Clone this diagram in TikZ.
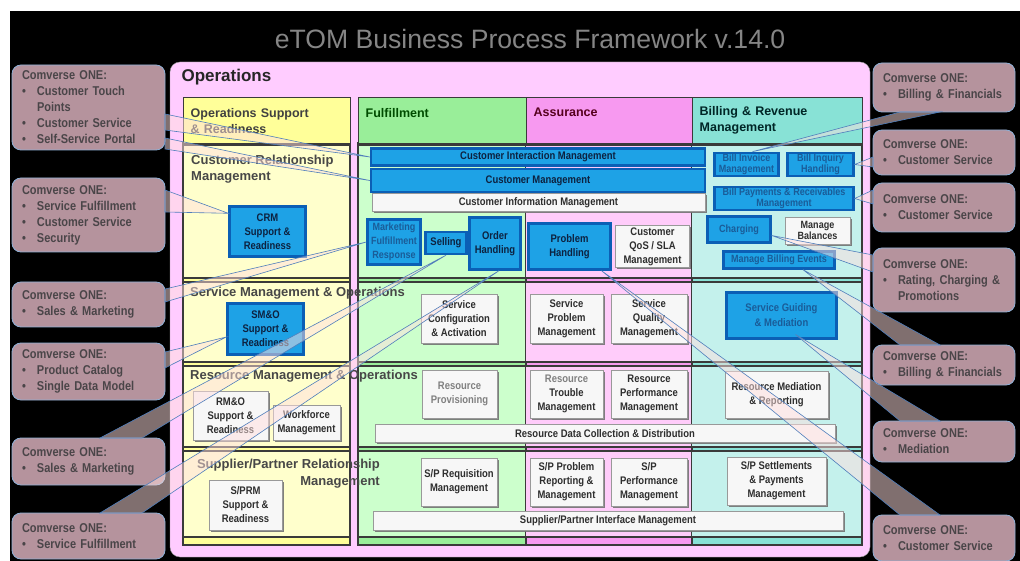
\documentclass[tikz,border=0pt]{standalone}
\usepackage{fontspec}
\setmainfont{Liberation Sans}
\newfontfamily\narrowsf[FakeStretch=0.86]{Liberation Sans}
\usetikzlibrary{shadows}

\definecolor{opspink}{HTML}{FFCCFF}
\definecolor{osrhead}{HTML}{FFFF99}
\definecolor{osrbody}{HTML}{FFFFCC}
\definecolor{fulhead}{HTML}{99EE99}
\definecolor{fulbody}{HTML}{CCFFCC}
\definecolor{asshead}{HTML}{F799F0}
\definecolor{assbody}{HTML}{FFCCFA}
\definecolor{bilhead}{HTML}{88E2D6}
\definecolor{bilbody}{HTML}{C4F1EC}
\definecolor{framegray}{HTML}{3A3A3A}
\definecolor{boxblue}{HTML}{1EA2E6}
\definecolor{boxedge}{HTML}{0B5FB5}
\definecolor{boxtext}{HTML}{0D2240}
\definecolor{dimtext}{HTML}{1A5C98}
\definecolor{callfill}{HTML}{B5939D}
\definecolor{calledge}{HTML}{8FB0D6}
\definecolor{calltext}{HTML}{4A4548}
\definecolor{wedgeedge}{HTML}{4F7EBB}
\definecolor{titlegray}{HTML}{858585}

\newcommand\itm[1]{\makebox[15pt][l]{\textbullet}#1}
\newcommand\cont[1]{\hspace*{15pt}#1}
\newcommand\greytxt[1]{{\color{black!50}#1}}

\tikzset{
  sz/.style 2 args={minimum width=#1pt, minimum height=#2pt},
  stage/.style={draw=framegray, line width=1.4pt},
  colhead/.style={rectangle, draw=framegray, line width=1.4pt, anchor=north west, align=left, inner xsep=7pt, font=\bfseries\fontsize{12.5}{16}\selectfont},
  rowlabel/.style={inner sep=0pt, align=left, text=black!72, font=\bfseries\fontsize{13}{16.5}\selectfont},
  proc/.style={rectangle, align=center, inner sep=1pt, font=\narrowsf\bfseries\fontsize{11}{14}\selectfont},
  bluebox/.style={proc, fill=boxblue, draw=boxedge, line width=2.4pt, text=boxtext},
  dimbox/.style={bluebox, text=dimtext, font=\narrowsf\bfseries\fontsize{10.5}{11.5}\selectfont},
  whitebox/.style={proc, fill=black!3, draw=black!40, line width=0.5pt, text=black!82, drop shadow={shadow xshift=1.6pt, shadow yshift=-1.6pt, fill=black!55, opacity=0.9}},
  callout/.style={rectangle, rounded corners=9pt, fill=callfill, draw=calledge, line width=0.8pt, text=calltext, align=left, inner xsep=10pt, font=\narrowsf\bfseries\fontsize{12.8}{16}\selectfont},
  pointer/.style={fill=pink!50!white, fill opacity=0.5, draw=wedgeedge, line width=0.6pt},
}

\begin{document}
\begin{tikzpicture}[x=1pt,y=-1pt]
\useasboundingbox (0,0) rectangle (1020,561);
\fill[black] (10,11) rectangle (1020,561);
\node[font=\fontsize{26.6}{30}\selectfont, text=titlegray] (title) at (530,39) {eTOM Business Process Framework v.14.0};

% operations panel
\filldraw[fill=opspink, draw=black!40, rounded corners=10pt] (170,62) rectangle (870,557);
\node[anchor=west, font=\bfseries\fontsize{17}{20}\selectfont, text=black!85] (ops) at (178,77) {Operations};

% vertical groupings and horizontal layers
\foreach \xa/\xb/\hd/\bd in {183/350/osrhead/osrbody, 358/526/fulhead/fulbody, 526/692/asshead/assbody, 692/862/bilhead/bilbody} {
  \filldraw[stage, fill=\hd] (\xa,143) rectangle (\xb,545);
  \foreach \ya/\yb in {145/278, 282/362, 366/447, 451/537}
    \fill[\bd] (\xa,\ya) rectangle (\xb,\yb);
}
\foreach \ya/\yb in {145/278, 282/362, 366/447, 451/537} {
  \draw[stage] (183,\ya) rectangle (350,\yb);
  \draw[stage] (358,\ya) rectangle (862,\yb);
}

\node[colhead, fill=osrhead, sz={167}{46}, text width=153pt, text=black!75] (osr) at (183,97) {Operations Support\\\& Readiness};
\node[colhead, fill=fulhead, sz={168}{46}, text width=154pt, text=black!70!green] (ful) at (358,97) {Fulfillment\\\mbox{}};
\node[colhead, fill=asshead, sz={166}{46}, text width=152pt, text=black!55!purple] (ass) at (526,97) {Assurance\\\mbox{}};
\node[colhead, fill=bilhead, sz={170}{46}, text width=156pt, text=black!70!teal] (bil) at (692,97) {Billing \& Revenue\\Management};

\node[rowlabel, anchor=base west] (crm) at (191,181) {Customer Relationship\\Management};
\node[rowlabel, anchor=base west] (smo) at (190,296.5) {Service Management \& Operations};
\node[rowlabel, anchor=base west] (rmo) at (190,379.5) {Resource Management \& Operations};
\node[rowlabel, anchor=base east, align=right] (sprm) at (380,485) {Supplier/Partner Relationship\\Management};

% customer layer
\node[bluebox, sz={334}{17}] (cim) at (538,157) {Customer Interaction Management};
\node[bluebox, sz={334}{23}] (cm) at (538,180.5) {Customer Management};
\node[whitebox, sz={333}{18}] (cinfo) at (538.5,202.5) {Customer Information Management};
\node[dimbox, sz={64}{22}] (bim) at (746.5,164.5) {Bill Invoice\\Management};
\node[dimbox, sz={66}{22}] (bih) at (820.5,164.5) {Bill Inquiry\\Handling};
\node[dimbox, sz={139}{22}] (bprm) at (784,198.5) {Bill Payments \& Receivables\\Management};
\node[dimbox, sz={63}{26}] (chg) at (739,229.5) {Charging};
\node[whitebox, sz={65}{27}, font=\narrowsf\bfseries\fontsize{10.5}{11.5}\selectfont] (mbal) at (817.5,230.5) {Manage\\Balances};
\node[dimbox, sz={111}{17}] (mbe) at (779,260) {Manage Billing Events};
\node[bluebox, sz={76}{50}] (crmsr) at (267.5,231.5) {CRM\\Support \&\\Readiness};
\node[dimbox, sz={53}{45}, font=\narrowsf\bfseries\fontsize{10.5}{14}\selectfont] (mfr) at (394,242) {Marketing\\Fulfillment\\Response};
\node[bluebox, sz={41}{22}] (sell) at (446,243) {Selling};
\node[bluebox, sz={51}{52}] (oh) at (495,243.5) {Order\\Handling};
\node[bluebox, sz={82}{46}] (ph) at (569.5,246.5) {Problem\\Handling};
\node[whitebox, sz={74}{42}] (qos) at (652.5,246.5) {Customer\\QoS / SLA\\Management};

% service layer
\node[bluebox, sz={76}{51}] (smosr) at (265.5,329) {SM\&O\\Support \&\\Readiness};
\node[whitebox, sz={76}{49}] (sca) at (459,318.5) {Service\\Configuration\\\& Activation};
\node[whitebox, sz={73}{49}] (spm) at (566.5,318.5) {Service\\Problem\\Management};
\node[whitebox, sz={76}{49}] (sqm) at (649,318.5) {Service\\Quality\\Management};
\node[dimbox, sz={110}{46}, font=\narrowsf\bfseries\fontsize{11}{15}\selectfont] (sgm) at (781.5,315.5) {Service Guiding\\\& Mediation};

% resource layer
\node[whitebox, sz={75}{49}] (rmosr) at (230.5,415.5) {RM\&O\\Support \&\\Readiness};
\node[whitebox, sz={67}{35}] (wfm) at (306.5,422.5) {Workforce\\Management};
\node[whitebox, sz={75}{48}] (rp) at (459.5,394) {\greytxt{Resource}\\\greytxt{Provisioning}};
\node[whitebox, sz={73}{48}] (rtm) at (566.5,394) {\greytxt{Resource}\\Trouble\\Management};
\node[whitebox, sz={76}{48}] (rpm) at (649,394) {Resource\\Performance\\Management};
\node[whitebox, sz={103}{47}] (rmr) at (776.5,394.5) {Resource Mediation\\\& Reporting};
\node[whitebox, sz={460}{18}] (rdcd) at (605,433.5) {Resource Data Collection \& Distribution};

% supplier/partner layer
\node[whitebox, sz={73}{50}] (sprmsr) at (245.5,505) {S/PRM\\Support \&\\Readiness};
\node[whitebox, sz={76}{48}] (sprqm) at (459,482) {S/P Requisition\\Management};
\node[whitebox, sz={73}{48}] (sppr) at (566.5,482) {S/P Problem\\Reporting \&\\Management};
\node[whitebox, sz={76}{48}] (sppm) at (649,482) {S/P\\Performance\\Management};
\node[whitebox, sz={99}{48}] (spsp) at (776.5,481) {S/P Settlements\\\& Payments\\Management};
\node[whitebox, sz={470}{19}] (spim) at (608,521) {Supplier/Partner Interface Management};

% product callouts
\node[callout, sz={153}{85}, text width=133pt] (l1) at (88.5,107.5) {Comverse ONE:\\\itm{Customer Touch}\\\cont{Points}\\\itm{Customer Service}\\\itm{Self-Service Portal}};
\node[callout, sz={153}{74}, text width=133pt] (l2) at (88.5,215) {Comverse ONE:\\\itm{Service Fulfillment}\\\itm{Customer Service}\\\itm{Security}};
\node[callout, sz={153}{45}, text width=133pt] (l3) at (88.5,304.5) {Comverse ONE:\\\itm{Sales \& Marketing}};
\node[callout, sz={153}{57}, text width=133pt] (l4) at (88.5,371.5) {Comverse ONE:\\\itm{Product Catalog}\\\itm{Single Data Model}};
\node[callout, sz={153}{47}, text width=133pt] (l5) at (88.5,461.5) {Comverse ONE:\\\itm{Sales \& Marketing}};
\node[callout, sz={153}{46}, text width=133pt] (l6) at (88.5,536) {Comverse ONE:\\\itm{Service Fulfillment}};
\node[callout, sz={142}{49}, text width=122pt] (r1) at (944,87.5) {Comverse ONE:\\\itm{Billing \& Financials}};
\node[callout, sz={142}{45}, text width=122pt] (r2) at (944,152.5) {Comverse ONE:\\\itm{Customer Service}};
\node[callout, sz={142}{49}, text width=122pt] (r3) at (944,207.5) {Comverse ONE:\\\itm{Customer Service}};
\node[callout, sz={142}{64}, text width=122pt] (r4) at (944,280) {Comverse ONE:\\\itm{Rating, Charging \&}\\\cont{Promotions}};
\node[callout, sz={142}{40}, text width=122pt] (r5) at (944,365) {Comverse ONE:\\\itm{Billing \& Financials}};
\node[callout, sz={142}{41}, text width=122pt] (r6) at (944,441.5) {Comverse ONE:\\\itm{Mediation}};
\node[callout, sz={142}{46}, text width=122pt] (r7) at (944,538) {Comverse ONE:\\\itm{Customer Service}};

% pointer wedges
\coordinate (l1a) at (165,114); \coordinate (l1b) at (165,130);
\coordinate (l1c) at (165,138); \coordinate (l1d) at (165,149);
\coordinate (l2a) at (165,190); \coordinate (l2b) at (165,212);
\coordinate (l3a) at (165,289); \coordinate (l3b) at (165,302);
\coordinate (l4a) at (165,352); \coordinate (l4b) at (165,368);
\coordinate (l5a) at (100,438); \coordinate (l5b) at (142,438);
\coordinate (l6a) at (100,513); \coordinate (l6b) at (142,513);
\coordinate (r1a) at (900,112); \coordinate (r1b) at (940,112);
\coordinate (r2a) at (873,157); \coordinate (r2b) at (873,167);
\coordinate (r3a) at (873,190); \coordinate (r3b) at (873,204);
\coordinate (r4a) at (873,255); \coordinate (r4b) at (873,272);
\coordinate (r5a) at (900,345); \coordinate (r5b) at (940,345);
\coordinate (r6a) at (900,421); \coordinate (r6b) at (940,421);
\coordinate (r7a) at (900,515); \coordinate (r7b) at (940,515);

\draw[pointer] (l1a) -- (cim.west) -- (l1b) -- cycle;
\draw[pointer] (l1c) -- (cm.west) -- (l1d) -- cycle;
\draw[pointer] (l2a) -- ([yshift=-8pt]crmsr.north west) -- (l2b) -- cycle;
\draw[pointer] (l3a) -- (mfr.west) -- (l3b) -- cycle;
\draw[pointer] (l4a) -- ([yshift=-8pt]smosr.west) -- (l4b) -- cycle;
\draw[pointer] (l5a) -- (sell.south) -- (l5b) -- cycle;
\draw[pointer] (l6a) -- ([xshift=4pt]oh.south) -- (l6b) -- cycle;
\draw[pointer] (r1a) -- ([xshift=6pt]bim.north) -- (r1b) -- cycle;
\draw[pointer] (r2a) -- (bih.east) -- (r2b) -- cycle;
\draw[pointer] (r3a) -- (bprm.east) -- (r3b) -- cycle;
\draw[pointer] (r4a) -- ([yshift=-6pt]chg.east) -- (r4b) -- cycle;
\draw[pointer] (r5a) -- ([xshift=24pt]mbe.south) -- (r5b) -- cycle;
\draw[pointer] (r6a) -- ([xshift=14pt,yshift=-19pt]sgm.center) -- (r6b) -- cycle;
\draw[pointer] (r7a) -- ([xshift=32pt]ph.south) -- (r7b) -- cycle;
\end{tikzpicture}
\end{document}
